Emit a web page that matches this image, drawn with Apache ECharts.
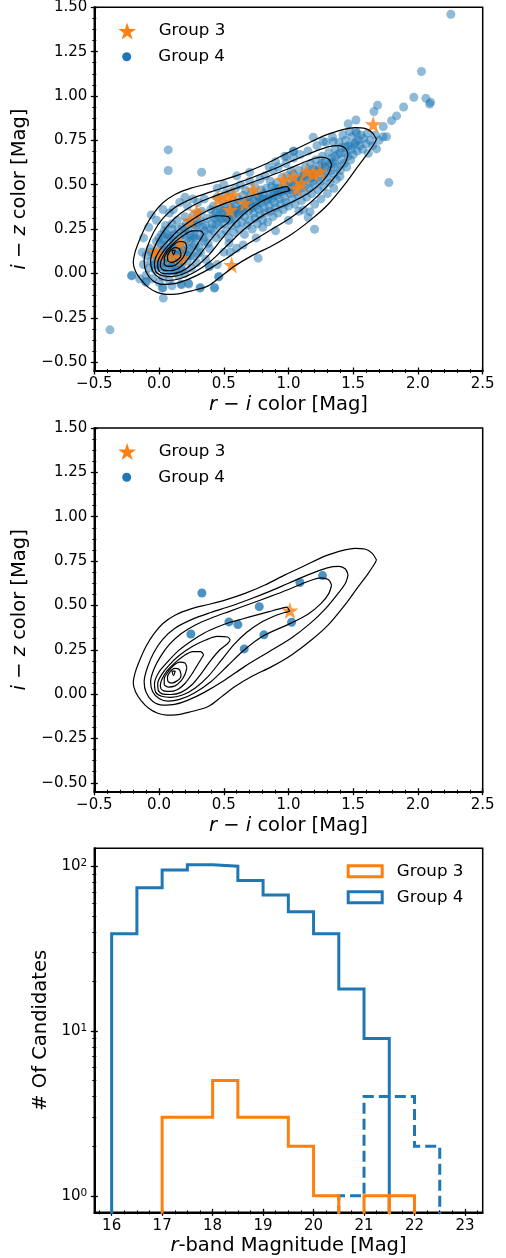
<!DOCTYPE html>
<html><head><meta charset="utf-8">
<script src="https://cdn.jsdelivr.net/npm/echarts@6/dist/echarts.min.js"></script>
<style>html,body{margin:0;padding:0;background:#fff}#c{width:506px;height:1258px}</style>
</head><body><div id="c"></div>
<script>
// ---------- tick labels ----------
const xTicksColor = [-0.5, 0, 0.5, 1, 1.5, 2, 2.5];
const yTicksColor = [-0.5, -0.25, 0, 0.25, 0.5, 0.75, 1, 1.25, 1.5];
const xTicksHist = [16, 17, 18, 19, 20, 21, 22, 23];
const yTicksHistExp = [0, 1, 2];            // 10^0, 10^1, 10^2
const yMinorHist = [2, 3, 4, 5, 6, 7, 8, 9, 20, 30, 40, 50, 60, 70, 80, 90];

// ---------- histogram (bin width 0.5) ----------
const histBinWidth = 0.5;
const g4Start = 16;
const g4Counts = [39, 74, 95, 102, 100, 82, 67, 53, 39, 18, 9];
const g4FaintStart = 20.5;
const g4FaintCounts = [1, 4, 4, 2];
const g3Start = 17;
const g3Counts = [3, 3, 5, 3, 3, 2, 1, 0, 1];
const g3bStart = 21.5;
const g3bCounts = [1];

// ---------- scatter, top panel ----------
const group4Top = [
[-0.12,0.05],[-0.1,0.1],[-0.1,-0.01],[-0.08,0.03],[-0.07,0.14],[-0.06,0.07],[-0.05,-0.03],[-0.04,0.11],[-0.03,0.02],[-0.02,0.18],[-0.01,0.08],[0.0,-0.05],[0.0,0.13],[0.01,0.04],[0.02,0.22],[0.02,0.1],[0.03,-0.02],[0.04,0.16],[0.04,0.06],[0.05,0.27],[0.06,0.12],[0.06,0.0],[0.07,0.2],[0.08,0.08],[0.08,-0.04],[0.09,0.15],[0.1,0.04],[0.1,0.25],[0.11,0.11],[0.12,0.18],[0.12,0.01],[0.13,0.07],[0.14,0.3],[0.14,0.14],[0.15,-0.01],[0.16,0.21],[0.16,0.09],[0.17,0.04],[0.18,0.26],[0.18,0.16],[0.19,0.11],[0.2,0.0],[0.2,0.32],[0.21,0.19],[0.22,0.07],[0.22,0.24],[0.23,0.14],[0.24,0.29],[0.25,0.03],[0.25,0.2],[0.26,0.1],[0.27,0.33],[0.28,0.25],[0.28,0.16],[0.29,0.06],[0.3,0.29],[0.31,0.21],[0.32,0.12],[0.33,0.35],[0.34,0.26],[0.35,0.18],[0.36,0.08],[0.37,0.31],[0.38,0.22],[0.39,0.14],[0.4,0.36],[0.41,0.28],
[0.05,0.09],[0.09,0.06],[0.13,0.12],[0.17,0.13],[0.11,0.17],[0.07,0.14],[0.15,0.06],[0.19,0.22],[0.23,0.18],[0.27,0.21],[0.03,0.13],[-0.02,0.05],[0.24,0.1],[0.31,0.15],[0.35,0.24],[0.29,0.27],[0.21,0.28],[0.15,0.25],[0.09,0.21],[0.01,0.17],
[0.0,0.09],[0.02,0.03],[0.04,0.19],[0.06,0.05],[0.08,0.12],[0.1,0.08],[0.12,0.05],[0.12,0.22],[0.14,0.1],[0.16,0.16],[0.18,0.07],[0.2,0.13],[0.2,0.25],[0.22,0.1],[0.24,0.22],[0.26,0.15],[0.28,0.2],[0.3,0.11],[0.32,0.3],[0.34,0.2],[0.36,0.27],[0.38,0.17],[0.4,0.25],[0.42,0.33],[-0.04,0.05],[-0.06,0.12],[0.0,0.2],[0.06,0.22],[0.1,0.28],[0.08,0.02],[0.13,0.02],[0.18,0.02],[0.04,0.24],[0.26,0.28],[0.3,0.34],
[-0.21,-0.01],[-0.15,-0.03],[-0.1,-0.05],[-0.13,0.12],[-0.12,0.2],[-0.08,0.26],[-0.06,0.33],[-0.02,0.3],[0.03,0.36],[0.08,0.34],[0.11,0.36],[0.16,0.4],[0.2,0.43],[0.26,0.42],[0.03,-0.08],[0.1,-0.07],[0.17,-0.06],[0.23,-0.06],[0.32,-0.08],[0.43,-0.08],[0.46,-0.02],[0.39,0.04],[0.45,0.05],[0.5,0.12],[0.54,0.17],[0.3,0.4],[0.35,0.42],[0.22,0.38],
[0.42,0.24],[0.42,0.38],[0.43,0.31],[0.44,0.2],[0.44,0.34],[0.45,0.43],[0.46,0.27],[0.47,0.36],[0.48,0.22],[0.48,0.31],[0.49,0.4],[0.5,0.28],[0.5,0.35],[0.51,0.45],[0.52,0.24],[0.52,0.32],[0.53,0.39],[0.54,0.2],[0.54,0.3],[0.55,0.37],[0.55,0.46],[0.56,0.27],[0.57,0.34],[0.57,0.41],[0.58,0.23],[0.58,0.31],[0.59,0.38],[0.59,0.48],[0.6,0.28],[0.61,0.35],[0.61,0.42],[0.62,0.25],[0.62,0.33],[0.63,0.4],[0.63,0.5],[0.64,0.29],[0.65,0.37],[0.65,0.44],[0.66,0.22],[0.66,0.32],[0.67,0.39],[0.67,0.47],[0.68,0.27],[0.69,0.35],[0.69,0.42],[0.7,0.52],[0.7,0.3],[0.71,0.38],[0.71,0.45],[0.72,0.25],[0.73,0.34],[0.73,0.41],[0.74,0.49],[0.74,0.31],[0.75,0.38],[0.75,0.44],[0.76,0.28],[0.77,0.36],[0.77,0.43],[0.78,0.53],[0.78,0.33],[0.79,0.4],[0.79,0.47],[0.8,0.3],[0.81,0.37],[0.81,0.45],[0.82,0.55],[0.82,0.34],[0.83,0.41],[0.83,0.48],[0.84,0.29],[0.85,0.38],[0.85,0.44],[0.86,0.52],[0.86,0.35],[0.87,0.42],[0.87,0.49],[0.88,0.58],[0.88,0.32],[0.89,0.4],[0.89,0.46],[0.9,0.37],[0.91,0.44],[0.91,0.51],[0.92,0.6],[0.92,0.34],[0.93,0.42],[0.93,0.48],[0.94,0.39],[0.95,0.46],[0.95,0.54],[0.96,0.36],[0.97,0.43],[0.97,0.5],[0.98,0.62],[0.98,0.4],[0.99,0.47],[0.99,0.55],[1.0,0.38],[1.01,0.45],[1.01,0.52],[1.02,0.58],[1.03,0.42],[1.03,0.49],[1.04,0.56],[1.04,0.65],[1.05,0.39],[1.06,0.46],[1.06,0.53],[1.07,0.44],[1.08,0.5],[1.08,0.58],[1.09,0.67],[1.1,0.41],[1.1,0.48],[1.11,0.55],[1.12,0.46],[1.12,0.52],[1.13,0.6],[1.14,0.43],[1.14,0.5],[1.15,0.57],[1.15,0.69],[1.16,0.48],[1.17,0.54],[1.17,0.62],[1.18,0.45],[1.19,0.52],[1.19,0.59],[1.2,0.5],[1.21,0.56],[1.21,0.64],[1.22,0.72],[1.23,0.47],[1.23,0.54],[1.24,0.61],[1.25,0.52],[1.26,0.58],[1.26,0.66],[1.27,0.49],[1.28,0.56],[1.28,0.63],[1.29,0.74],[1.3,0.54],[1.31,0.6],[1.31,0.68],[1.32,0.51],[1.33,0.58],[1.33,0.65],[1.34,0.77],[1.35,0.56],[1.36,0.62],[1.36,0.7],[1.37,0.53],[1.38,0.6],[1.38,0.67],[1.39,0.74],[1.4,0.58],[1.41,0.64],[1.41,0.71],[1.42,0.78],[1.43,0.62],[1.44,0.68],[1.44,0.75],[1.45,0.6],[1.46,0.66],[1.46,0.72],[1.47,0.8],[1.48,0.64],[1.49,0.7],[1.49,0.77],[1.5,0.67],[1.51,0.73],[1.52,0.8],[1.53,0.69],[1.54,0.75],[1.55,0.72],[1.56,0.78],[1.57,0.7],[1.58,0.76],[1.6,0.73],[1.61,0.79],[1.63,0.75],[1.65,0.72],[1.67,0.78],[1.7,0.75],[1.73,0.77],
[0.44,0.28],[0.46,0.32],[0.5,0.31],[0.53,0.35],[0.56,0.32],[0.6,0.34],[0.63,0.36],[0.66,0.36],[0.7,0.4],[0.72,0.37],[0.76,0.4],[0.8,0.42],[0.84,0.42],[0.88,0.44],[0.92,0.46],[0.96,0.47],[1.0,0.49],[1.04,0.51],[1.08,0.53],[1.12,0.55],[1.16,0.56],[1.2,0.58],[1.24,0.58],[1.28,0.6],[1.32,0.62],[1.36,0.66],[1.4,0.68],[1.44,0.71],[1.48,0.72],[1.52,0.74],[0.48,0.36],[0.58,0.36],[0.68,0.4],[0.78,0.43],[0.9,0.48],[1.02,0.47],[1.1,0.53],[1.18,0.54],[1.26,0.62],[1.34,0.63],
[0.6,0.55],[0.5,0.5],[0.45,0.48],[0.7,0.57],[0.85,0.6],[0.97,0.66],[0.9,0.63],[1.04,0.69],[0.9,0.24],[1.0,0.3],[1.08,0.35],[1.25,0.42],[1.35,0.48],[0.75,0.2],[0.65,0.16],[0.55,0.12],[0.8,0.26],[1.3,0.45],
[2.254,1.461],[2.027,1.138],[1.968,0.993],[2.061,0.987],[2.097,0.965],[2.09,0.955],[1.889,0.938],[1.835,0.888],[1.796,0.861],[1.688,0.948],[1.66,0.912],[1.521,0.865],[1.461,0.843],[1.732,0.828],[1.757,0.771],[1.68,0.702],[1.775,0.512],[1.201,0.249],[1.152,0.315],[1.166,0.348],[1.203,0.39],[1.114,0.358],[1.191,0.768],[1.037,0.687],[0.985,0.659],[0.766,0.086],[0.599,0.142],[0.463,-0.017],[0.427,-0.083],[0.316,-0.083],[0.388,0.039],[0.033,-0.139],[0.025,-0.083],[-0.212,-0.014],[-0.104,-0.045],[-0.379,-0.318],[0.071,0.696],[0.071,0.58],[0.329,0.57],[0.174,-0.064],[0.226,-0.055],[1.268,0.743],[1.346,0.743],[1.526,0.79],[1.616,0.677],[1.397,0.546]
];
const group3Top = [
[1.654,0.841],[0.561,0.048],[-0.031,0.123],[0.005,0.105],[0.162,0.17],[0.098,0.095],[0.174,0.086],[0.239,0.3],[0.291,0.349],[0.458,0.42],[0.573,0.443],[0.548,0.358],[0.664,0.396],[0.728,0.471],[1.037,0.546],[1.063,0.48],[1.14,0.574],[1.243,0.574],[1.191,0.56],[0.96,0.527],[1.1,0.51],[0.52,0.43]
];

// ---------- scatter, middle panel ----------
const group4Mid = [
[0.331,0.57],[0.246,0.339],[0.54,0.407],[0.609,0.392],[0.774,0.493],[0.658,0.255],[0.81,0.334],[1.024,0.405],[1.088,0.629],[1.263,0.668]
];
const group3Mid = [[1.011,0.471]];

// ---------- density contour lines (same in both colour panels) ----------
const contour1 = [[1.68,0.756],[1.645,0.795],[1.59,0.818],[1.513,0.822],[1.436,0.813],[1.281,0.778],[1.127,0.725],[0.973,0.672],[0.818,0.615],[0.664,0.568],[0.509,0.53],[0.38,0.505],[0.252,0.482],[0.123,0.445],[0.03,0.398],[-0.04,0.34],[-0.1,0.27],[-0.15,0.19],[-0.185,0.12],[-0.199,0.062],[-0.18,0.01],[-0.14,-0.035],[-0.08,-0.08],[-0.01,-0.108],[0.06,-0.118],[0.13,-0.117],[0.252,-0.098],[0.38,-0.07],[0.484,-0.014],[0.587,0.043],[0.715,0.099],[0.87,0.155],[1.024,0.221],[1.179,0.306],[1.307,0.39],[1.436,0.503],[1.539,0.606],[1.616,0.681],[1.665,0.735],[1.68,0.756]];
const contour2 = [[1.46,0.672],[1.44,0.705],[1.39,0.72],[1.3,0.712],[1.15,0.672],[1.0,0.625],[0.85,0.578],[0.7,0.535],[0.55,0.495],[0.4,0.46],[0.25,0.42],[0.12,0.37],[0.03,0.31],[-0.04,0.235],[-0.09,0.15],[-0.115,0.07],[-0.1,0.01],[-0.05,-0.04],[0.03,-0.062],[0.12,-0.058],[0.22,-0.035],[0.35,0.01],[0.5,0.075],[0.66,0.155],[0.84,0.235],[1.02,0.315],[1.17,0.4],[1.29,0.485],[1.38,0.565],[1.44,0.625],[1.46,0.672]];
const contour3 = [[1.333,0.615],[1.31,0.645],[1.25,0.655],[1.15,0.635],[1.0,0.59],[0.85,0.548],[0.7,0.508],[0.55,0.468],[0.4,0.428],[0.28,0.39],[0.17,0.34],[0.08,0.28],[0.01,0.21],[-0.04,0.14],[-0.065,0.07],[-0.05,0.015],[0.0,-0.025],[0.07,-0.04],[0.16,-0.03],[0.27,0.005],[0.4,0.07],[0.53,0.16],[0.66,0.25],[0.81,0.33],[1.02,0.4],[1.15,0.45],[1.25,0.51],[1.31,0.565],[1.333,0.615]];
const contour4 = [[1.0,0.478],[0.99,0.49],[0.95,0.485],[0.85,0.465],[0.75,0.445],[0.65,0.425],[0.55,0.405],[0.45,0.378],[0.35,0.345],[0.25,0.3],[0.15,0.245],[0.07,0.185],[0.0,0.125],[-0.035,0.06],[-0.025,0.01],[0.02,-0.012],[0.09,-0.018],[0.18,-0.005],[0.28,0.035],[0.38,0.1],[0.48,0.19],[0.58,0.28],[0.68,0.35],[0.79,0.405],[0.9,0.443],[0.97,0.46],[1.01,0.468],[1.0,0.478]];
const contour5 = [[0.55,0.305],[0.53,0.322],[0.45,0.325],[0.36,0.305],[0.26,0.27],[0.16,0.22],[0.08,0.165],[0.02,0.11],[-0.01,0.06],[-0.005,0.02],[0.03,0.0],[0.09,-0.002],[0.17,0.01],[0.25,0.05],[0.33,0.12],[0.4,0.19],[0.47,0.25],[0.53,0.285],[0.55,0.305]];
const contour6 = [[0.345,0.222],[0.32,0.24],[0.26,0.24],[0.19,0.215],[0.12,0.175],[0.06,0.13],[0.02,0.08],[0.01,0.045],[0.03,0.02],[0.08,0.015],[0.14,0.025],[0.2,0.06],[0.26,0.12],[0.31,0.18],[0.345,0.222]];
const contour7 = [[0.215,0.15],[0.2,0.175],[0.16,0.18],[0.11,0.16],[0.07,0.125],[0.04,0.085],[0.04,0.055],[0.07,0.04],[0.12,0.045],[0.17,0.075],[0.2,0.11],[0.215,0.15]];
const contour8 = [[0.17,0.11],[0.155,0.14],[0.12,0.145],[0.085,0.125],[0.065,0.095],[0.07,0.07],[0.1,0.062],[0.14,0.075],[0.165,0.092],[0.17,0.11]];
const contour9 = [[0.1,0.13],[0.125,0.13],[0.112,0.105],[0.1,0.13]];

// ---------- styling ----------
const FONT = 'DejaVu Sans';
const BLUE = '#1f77b4', ORANGE = '#ff7f0e';
const STAR = 'path://M100,0L122.45,69.1L195.1,69.1L136.3,111.8L158.8,180.9L100,138.2L41.2,180.9L63.7,111.8L4.9,69.1L77.55,69.1Z';
const FRAME = 'path://M0,0H37V14H0Z M3,3V11H34V3Z';
const GRIDS = [
  {left: 94.3, top: 7.3, width: 388.4, height: 363.7},
  {left: 94.3, top: 428, width: 388.4, height: 363.7},
  {left: 94.3, top: 848.3, width: 388.4, height: 364}
];
const COLOR_X = [-0.5, 2.5], COLOR_Y = [-0.55, 1.5];
const HIST_X = [15.656, 23.351];
const HIST_Y = [Math.log10(0.794), Math.log10(128.5)];
const BASE = -1; // below the axis floor, clipped

function minorTicks(majors, n, lo, hi) {
  const step = (majors[1] - majors[0]) / n;
  const out = [];
  const first = majors[0] - step * n, last = majors[majors.length - 1] + step * n;
  for (let i = 0; ; i++) {
    const v = +(first + i * step).toFixed(6);
    if (v > last + 1e-9) break;
    if (v >= lo && v <= hi && !majors.some(m => Math.abs(m - v) < 1e-9)) out.push(v);
  }
  return out;
}
const minus = s => s.replace('-', '\u2212');
const nameStyle = {fontSize: 19.5, fontFamily: FONT, color: '#000',
  rich: {it: {fontStyle: 'italic', fontSize: 19.5, fontFamily: FONT, color: '#000'}}};

function axisSet(dim, gridIndex, ext, majors, minors, fmt, name, nameGap, rich) {
  const position = dim === 'x' ? 'bottom' : 'left';
  const common = {type: 'value', gridIndex, min: ext[0], max: ext[1], position, splitLine: {show: false}};
  return [
    Object.assign({}, common, {
      axisLine: {show: true, onZero: false, lineStyle: {color: '#000', width: 2}},
      axisTick: {show: false},
      axisLabel: {show: true, customValues: majors, formatter: fmt, margin: dim === 'x' ? 6 : 7,
        color: '#000', fontSize: 15, fontFamily: FONT, rich: rich},
      name, nameLocation: 'middle', nameGap, nameTextStyle: nameStyle
    }),
    Object.assign({}, common, {
      offset: -3.5, axisLine: {show: false, onZero: false}, axisLabel: {show: false},
      axisTick: {show: true, customValues: majors, length: 7, lineStyle: {color: '#000', width: 1.3}}
    }),
    Object.assign({}, common, {
      offset: -2, axisLine: {show: false, onZero: false}, axisLabel: {show: false},
      axisTick: {show: true, customValues: minors, length: 4, lineStyle: {color: '#000', width: 1}}
    })
  ];
}

const xMinorColor = minorTicks(xTicksColor, 5, COLOR_X[0], COLOR_X[1]);
const yMinorColor = minorTicks(yTicksColor, 4, COLOR_Y[0], COLOR_Y[1]);
const xMinorHist = minorTicks(xTicksHist, 4, HIST_X[0], HIST_X[1]);
const yMinorHistLog = yMinorHist.map(v => Math.log10(v));

const fmtX = v => minus(v.toFixed(1));
const fmtY = v => minus(v.toFixed(2));
const xName = '{it|r} \u2212 {it|i} color [Mag]';
const yName = '{it|i} \u2212 {it|z} color [Mag]';

const xAxes = [].concat(
  axisSet('x', 0, COLOR_X, xTicksColor, xMinorColor, fmtX, xName, 24),
  axisSet('x', 1, COLOR_X, xTicksColor, xMinorColor, fmtX, xName, 24),
  axisSet('x', 2, HIST_X, xTicksHist, xMinorHist, v => String(Math.round(v)), '{it|r}-band Magnitude [Mag]', 24)
);
const yAxes = [].concat(
  axisSet('y', 0, COLOR_Y, yTicksColor, yMinorColor, fmtY, yName, 59.5),
  axisSet('y', 1, COLOR_Y, yTicksColor, yMinorColor, fmtY, yName, 59.5),
  axisSet('y', 2, HIST_Y, yTicksHistExp, yMinorHistLog, v => '{b|10}{s|' + Math.round(v) + '}', '# Of Candidates', 39.5,
    {b: {fontSize: 15, fontFamily: FONT, color: '#000'}, s: {fontSize: 10.5, fontFamily: FONT, color: '#000', padding: [0, 0, 6, 0]}})
);

function stepOutline(start, counts) {
  const pts = [[start, BASE]];
  counts.forEach((c, i) => {
    const v = c > 0 ? Math.log10(c) : BASE;
    pts.push([start + i * histBinWidth, v], [start + (i + 1) * histBinWidth, v]);
  });
  pts.push([start + counts.length * histBinWidth, BASE]);
  return pts;
}

const contours = [contour1, contour2, contour3, contour4, contour5, contour6, contour7, contour8, contour9];
function contourSeries(p) {
  return contours.map(c => ({type: 'line', xAxisIndex: 3 * p, yAxisIndex: 3 * p, data: c,
    showSymbol: false, symbol: 'none', smooth: 0.3, silent: true, z: 5,
    lineStyle: {color: '#000', width: 1.2}}));
}

const series = [
  {name: 'p1g4', type: 'scatter', xAxisIndex: 0, yAxisIndex: 0, data: group4Top, symbol: 'circle', symbolSize: 9,
    itemStyle: {color: BLUE, opacity: 0.5}, z: 2, silent: true},
  {name: 'p1g3', type: 'scatter', xAxisIndex: 0, yAxisIndex: 0, data: group3Top, symbol: STAR, symbolSize: 17,
    itemStyle: {color: ORANGE}, z: 3, silent: true},
  ...contourSeries(0),
  {name: 'p2g4', type: 'scatter', xAxisIndex: 3, yAxisIndex: 3, data: group4Mid, symbol: 'circle', symbolSize: 9,
    itemStyle: {color: BLUE}, z: 2, silent: true},
  {name: 'p2g3', type: 'scatter', xAxisIndex: 3, yAxisIndex: 3, data: group3Mid, symbol: STAR, symbolSize: 17,
    itemStyle: {color: ORANGE}, z: 3, silent: true},
  ...contourSeries(1),
  {name: 'hg4', type: 'line', xAxisIndex: 6, yAxisIndex: 6, data: stepOutline(g4Start, g4Counts), showSymbol: false, symbol: 'none',
    itemStyle: {color: BLUE}, lineStyle: {color: BLUE, width: 3, join: 'miter'}, z: 3, silent: true},
  {name: 'hg4faint', type: 'line', xAxisIndex: 6, yAxisIndex: 6, data: stepOutline(g4FaintStart, g4FaintCounts), showSymbol: false, symbol: 'none',
    itemStyle: {color: BLUE}, lineStyle: {color: BLUE, width: 3, type: [11, 5], join: 'miter'}, z: 3, silent: true},
  {name: 'hg3', type: 'line', xAxisIndex: 6, yAxisIndex: 6, data: stepOutline(g3Start, g3Counts), showSymbol: false, symbol: 'none',
    itemStyle: {color: ORANGE}, lineStyle: {color: ORANGE, width: 3, join: 'miter'}, z: 4, silent: true},
  {name: 'hg3b', type: 'line', xAxisIndex: 6, yAxisIndex: 6, data: stepOutline(g3bStart, g3bCounts), showSymbol: false, symbol: 'none',
    itemStyle: {color: ORANGE}, lineStyle: {color: ORANGE, width: 3, join: 'miter'}, z: 4, silent: true}
];

const legendText = {fontSize: 16.7, fontFamily: FONT, color: '#000'};
const legendFmt = n => n.endsWith('3') ? 'Group 3' : 'Group 4';
function scatterLegends(p, dy) {
  return [
    {left: 118.2, top: 22.5 + dy, padding: 0, orient: 'vertical', itemWidth: 53, itemHeight: 17, selectedMode: false,
      data: [{name: 'p' + p + 'g3', icon: STAR, itemStyle: {color: ORANGE, opacity: 1}}], formatter: legendFmt, textStyle: legendText},
    {left: 122.2, top: 48.2 + dy, padding: 0, orient: 'vertical', itemWidth: 53, itemHeight: 9, selectedMode: false,
      data: [{name: 'p' + p + 'g4', icon: 'circle', itemStyle: {color: BLUE, opacity: 1}}], formatter: legendFmt, textStyle: legendText}
  ];
}

const option = {
  animation: false,
  backgroundColor: '#fff',
  grid: GRIDS.map(g => Object.assign({show: true, borderColor: '#000', borderWidth: 1.5, containLabel: false, outerBoundsMode: 'none'}, g)),
  xAxis: xAxes,
  yAxis: yAxes,
  legend: [].concat(scatterLegends(1, 0), scatterLegends(2, 420.6), [
    {left: 346.7, top: 862.7, padding: 0, orient: 'vertical', itemWidth: 53, itemHeight: 14, itemGap: 9, selectedMode: false,
      itemStyle: {borderWidth: 0},
      data: [{name: 'hg3', icon: FRAME}, {name: 'hg4', icon: FRAME}], formatter: legendFmt, textStyle: legendText}
  ]),
  series
};
const chart = echarts.init(document.getElementById('c'), null, {renderer: 'canvas'});
chart.setOption(option);
</script></body></html>
